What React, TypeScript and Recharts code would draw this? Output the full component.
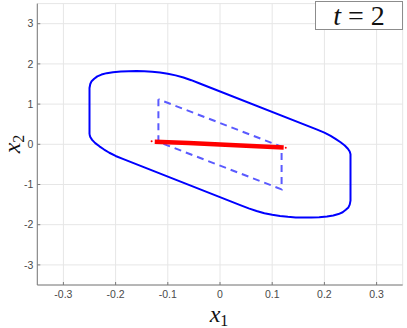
import React from 'react';
import { ScatterChart, Scatter, XAxis, YAxis, CartesianGrid } from 'recharts';

// reachable set boundary (solid)
const outerSet = [
  { x: -0.25, y: 0.25 }, { x: -0.25, y: 1.4 }, { x: -0.2485, y: 1.5 }, { x: -0.246, y: 1.57 },
  { x: -0.241, y: 1.63 }, { x: -0.235, y: 1.69 }, { x: -0.227, y: 1.735 }, { x: -0.217, y: 1.77 },
  { x: -0.205, y: 1.795 }, { x: -0.19, y: 1.812 }, { x: -0.175, y: 1.82 }, { x: -0.16, y: 1.822 },
  { x: -0.145, y: 1.818 }, { x: -0.13, y: 1.805 }, { x: -0.115, y: 1.785 }, { x: -0.1, y: 1.755 },
  { x: -0.085, y: 1.715 }, { x: -0.07, y: 1.66 }, { x: -0.055, y: 1.595 }, { x: -0.04, y: 1.52 },
  { x: 0.185, y: 0.37 }, { x: 0.2, y: 0.29 }, { x: 0.212, y: 0.21 }, { x: 0.222, y: 0.13 },
  { x: 0.231, y: 0.05 }, { x: 0.239, y: -0.03 }, { x: 0.245, y: -0.11 }, { x: 0.2485, y: -0.18 },
  { x: 0.25, y: -0.25 },
  { x: 0.25, y: -1.4 }, { x: 0.2485, y: -1.5 }, { x: 0.246, y: -1.57 },
  { x: 0.241, y: -1.63 }, { x: 0.235, y: -1.69 }, { x: 0.227, y: -1.735 }, { x: 0.217, y: -1.77 },
  { x: 0.205, y: -1.795 }, { x: 0.19, y: -1.812 }, { x: 0.175, y: -1.82 }, { x: 0.16, y: -1.822 },
  { x: 0.145, y: -1.818 }, { x: 0.13, y: -1.805 }, { x: 0.115, y: -1.785 }, { x: 0.1, y: -1.755 },
  { x: 0.085, y: -1.715 }, { x: 0.07, y: -1.66 }, { x: 0.055, y: -1.595 }, { x: 0.04, y: -1.52 },
  { x: -0.185, y: -0.37 }, { x: -0.2, y: -0.29 }, { x: -0.212, y: -0.21 }, { x: -0.222, y: -0.13 },
  { x: -0.231, y: -0.05 }, { x: -0.239, y: 0.03 }, { x: -0.245, y: 0.11 }, { x: -0.2485, y: 0.18 },
  { x: -0.25, y: 0.25 },
];

// inner set (dashed parallelogram)
const innerSet = [
  { x: -0.118, y: 1.12 }, { x: -0.118, y: 0.06 }, { x: 0.118, y: -1.12 },
  { x: 0.118, y: -0.06 }, { x: -0.118, y: 1.12 },
];

// red sample band
const samples = [
  { x: -0.125, y: 0.062 }, { x: -0.06, y: 0.03 }, { x: 0, y: -0.004 },
  { x: 0.06, y: -0.04 }, { x: 0.122, y: -0.078 },
];
const strays = [{ x: -0.131, y: 0.075 }, { x: 0.126, y: -0.088 }];

const xTicks = [-0.3, -0.2, -0.1, 0, 0.1, 0.2, 0.3];
const yTicks = [-3, -2, -1, 0, 1, 2, 3];

const tickFont = { fontFamily: 'Liberation Sans, Arial, sans-serif', fontSize: 10.5, fill: '#4a4a4a' };

const XTick = (props: any) => {
  const { x, y, payload } = props;
  return (
    <g>
      <line x1={x} x2={x} y1={y - 6} y2={y - 9} stroke="#7a7a7a" />
      <text x={x} y={y} dy="0.71em" textAnchor="middle" {...tickFont}>{payload.value}</text>
    </g>
  );
};

const YTick = (props: any) => {
  const { x, y, payload } = props;
  return (
    <g>
      <line x1={x + 4} x2={x + 7} y1={y} y2={y} stroke="#7a7a7a" />
      <text x={x} y={y} dy="0.355em" textAnchor="end" {...tickFont}>{payload.value}</text>
    </g>
  );
};

const noDot = () => <g />;

const serif = 'Liberation Serif, DejaVu Serif, serif';

export default function App() {
  return (
    <div style={{ position: 'absolute', left: 0, top: 0, width: 407, height: 328, background: '#fff' }}>
      <ScatterChart width={407} height={328} margin={{ top: 3.6, right: 4.3, bottom: 0, left: 0 }}>
        <CartesianGrid stroke="#e6e6e6" />
        <XAxis
          type="number"
          dataKey="x"
          domain={[-0.35, 0.35]}
          ticks={xTicks}
          allowDataOverflow
          height={43}
          stroke="#7a7a7a"
          tickSize={0}
          tickMargin={6}
          tickLine={false}
          tick={<XTick />}
          label={{
            content: () => (
              <text x={219} y={322} textAnchor="middle" fontFamily={serif} fontSize={24} fill="#111">
                <tspan fontStyle="italic">x</tspan>
                <tspan fontSize={16} dy={4}>1</tspan>
              </text>
            ),
          }}
        />
        <YAxis
          type="number"
          dataKey="y"
          domain={[-3.5, 3.5]}
          ticks={yTicks}
          allowDataOverflow
          width={37.3}
          stroke="#7a7a7a"
          tickSize={0}
          tickMargin={4}
          tickLine={false}
          tick={<YTick />}
          label={{
            content: () => (
              <text
                x={0}
                y={0}
                transform="translate(20,144) rotate(-90)"
                textAnchor="middle"
                fontFamily={serif}
                fontSize={24}
                fill="#111"
              >
                <tspan fontStyle="italic">x</tspan>
                <tspan fontSize={16} dy={4}>2</tspan>
              </text>
            ),
          }}
        />
        <Scatter
          data={outerSet}
          fill="#0000ff"
          line={{ stroke: '#0000ff', strokeWidth: 2, strokeLinejoin: 'round' }}
          lineType="joint"
          shape={noDot}
          isAnimationActive={false}
        />
        <Scatter
          data={innerSet}
          fill="#5c5cff"
          line={{ stroke: '#5a5aff', strokeWidth: 2, strokeDasharray: '7 5' }}
          lineType="joint"
          shape={noDot}
          isAnimationActive={false}
        />
        <Scatter
          data={samples}
          fill="#ff0000"
          line={{ stroke: '#ff0000', strokeWidth: 4.5 }}
          lineType="joint"
          shape={noDot}
          isAnimationActive={false}
        />
        <Scatter
          data={strays}
          fill="#ff0000"
          shape={(p: any) => <circle cx={p.cx} cy={p.cy} r={1} fill="#ff0000" />}
          isAnimationActive={false}
        />
      </ScatterChart>
      <div
        style={{
          position: 'absolute',
          left: 315,
          top: 1,
          width: 86,
          height: 27,
          border: '1px solid #8c8c8c',
          background: '#fff',
          fontFamily: serif,
          fontSize: 28,
          lineHeight: '28px',
          textAlign: 'center',
          color: '#111',
        }}
      >
        <span style={{ fontStyle: 'italic' }}>t</span> = 2
      </div>
    </div>
  );
}
